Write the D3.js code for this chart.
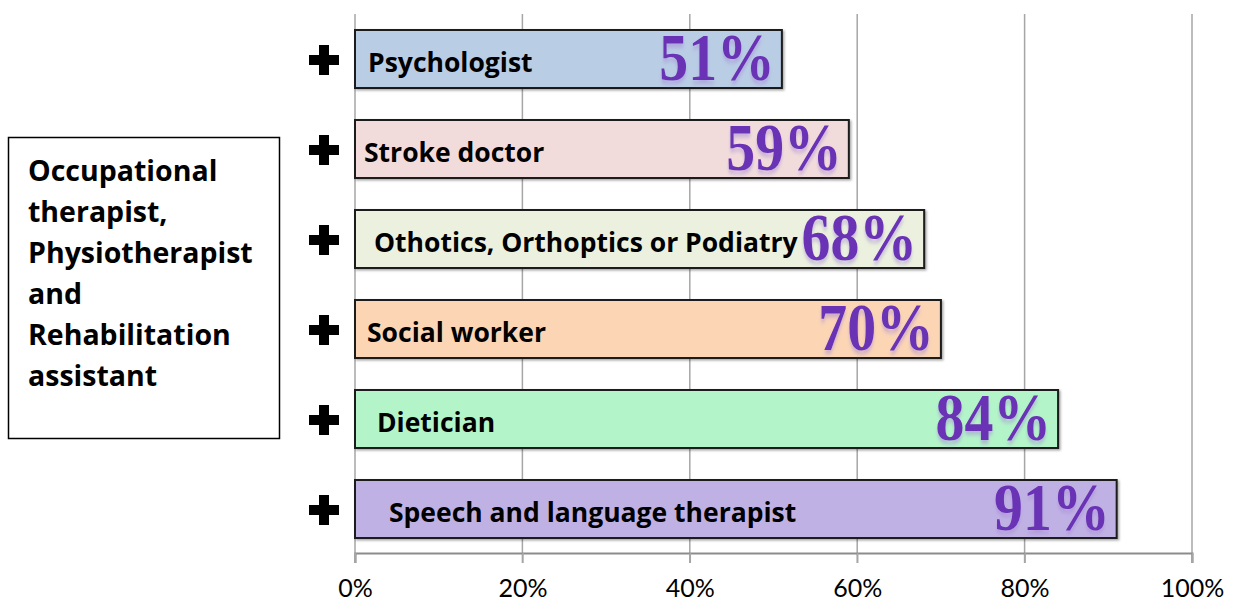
<!DOCTYPE html>
<html>
<head>
<meta charset="utf-8">
<script src="https://cdn.jsdelivr.net/npm/d3@7"></script>
<style>
body { margin: 0; background: #fff; }
svg { display: block; }
</style>
</head>
<body>
<div id="container"></div>
<script>
// chart data
var roles = ["Psychologist", "Stroke doctor", "Othotics, Orthoptics or Podiatry",
	     "Social worker", "Dietician", "Speech and language therapist"];
var shares = [51, 59, 68, 70, 84, 91];
var fills = ["#b9cde5", "#f2dcdb", "#ebf1de", "#fcd5b5", "#b3f5c8", "#c0b1e4"];
var ticks = [0, 20, 40, 60, 80, 100];
var sideNote = ["Occupational", "therapist,", "Physiotherapist", "and",
		"Rehabilitation", "assistant"];

// label indent inside each bar (layout only)
var LABEL_INDENT = [13, 9, 19, 12, 22, 34];

var WIDTH = 1239, HEIGHT = 606;
var AXIS_Y = 553;

var svg = d3.select("#container").append("svg")
    .attr("width", WIDTH)
    .attr("height", HEIGHT);

var defs = svg.append("defs");
var f = defs.append("filter").attr("id", "glow")
    .attr("x", "-10%").attr("y", "-10%")
    .attr("width", "120%").attr("height", "140%");
f.append("feDropShadow")
    .attr("dx", 0).attr("dy", 4)
    .attr("stdDeviation", 2)
    .attr("flood-color", "#a58ad6")
    .attr("flood-opacity", 0.55);

var barShadow = defs.append("filter").attr("id", "bshadow")
    .attr("x", "-5%").attr("y", "-20%")
    .attr("width", "110%").attr("height", "150%");
barShadow.append("feDropShadow")
    .attr("dx", 1.5).attr("dy", 1.5)
    .attr("stdDeviation", 0.8)
    .attr("flood-color", "#000")
    .attr("flood-opacity", 0.35);

var x = d3.scaleLinear().domain([0, 100]).range([355, 1192]);
var y = d3.scaleBand().domain(roles)
    .range([0, 568])
    .paddingInner(0.3556)
    .paddingOuter(0.3333);

// grid lines
svg.append("g").selectAll("line")
    .data(ticks)
    .enter()
    .append("line")
    .attr("x1", function(d){ return x(d); })
    .attr("x2", function(d){ return x(d); })
    .attr("y1", 14)
    .attr("y2", AXIS_Y + 10)
    .attr("stroke", "#a6a6a6")
    .attr("stroke-width", 1.5);

// bottom axis
var axis = d3.axisBottom(x)
    .tickValues(ticks)
    .tickFormat(function(d){ return d + "%"; })
    .tickSize(10)
    .tickPadding(16);

var ag = svg.append("g")
    .attr("transform", "translate(0," + AXIS_Y + ")")
    .call(axis);
ag.select(".domain").attr("stroke", "#8c8c8c").attr("stroke-width", 2);
ag.selectAll(".tick line").attr("stroke", "#a6a6a6").attr("stroke-width", 1.5);
ag.selectAll("text")
    .attr("fill", "#000")
    .style("font-family", "Lato, 'Open Sans', sans-serif")
    .style("font-size", "25px");

// bars
var rows = svg.selectAll("g.row")
    .data(roles)
    .enter()
    .append("g")
    .classed("row", true)
    .attr("transform", function(d){ return "translate(0," + y(d) + ")"; });

rows.append("rect")
    .attr("x", x(0))
    .attr("y", 0)
    .attr("width", function(d, i){ return x(shares[i]) - x(0); })
    .attr("height", y.bandwidth())
    .attr("fill", function(d, i){ return fills[i]; })
    .attr("stroke", "#1a1a1a")
    .attr("stroke-width", 2)
    .attr("filter", "url(#bshadow)");

rows.append("text")
    .attr("x", function(d, i){ return x(0) + LABEL_INDENT[i]; })
    .attr("y", 42)
    .style("font-family", "'Open Sans', Lato, sans-serif")
    .style("font-weight", "bold")
    .style("font-size", "26.5px")
    .attr("fill", "#000")
    .text(function(d){ return d; });

rows.append("text")
    .attr("transform", function(d, i){
	return "translate(" + (x(shares[i]) - 7) + "," + (y.bandwidth() - 8) + ") scale(0.85,1)";
    })
    .attr("text-anchor", "end")
    .style("font-family", "'Liberation Serif', 'DejaVu Serif', serif")
    .style("font-weight", "bold")
    .style("font-size", "68px")
    .attr("fill", "#6a30b4")
    .attr("filter", "url(#glow)")
    .text(function(d, i){ return shares[i] + "%"; });

// plus markers
var plus = d3.symbol().type(d3.symbolCross).size(500);
rows.append("path")
    .attr("d", plus)
    .attr("transform", "translate(324," + (y.bandwidth() / 2 + 1) + ")")
    .attr("fill", "#000");

// side box
var box = svg.append("g");
box.append("rect")
    .attr("x", 8.5).attr("y", 137.5)
    .attr("width", 271).attr("height", 301)
    .attr("fill", "#fff")
    .attr("stroke", "#000")
    .attr("stroke-width", 1.5);

box.selectAll("text")
    .data(sideNote)
    .enter()
    .append("text")
    .attr("x", 28)
    .attr("y", function(_, i){ return 181 + i * 41; })
    .style("font-family", "'Open Sans', Lato, sans-serif")
    .style("font-weight", "bold")
    .style("font-size", "28.5px")
    .attr("fill", "#000")
    .text(function(d){ return d; });
</script>
</body>
</html>
